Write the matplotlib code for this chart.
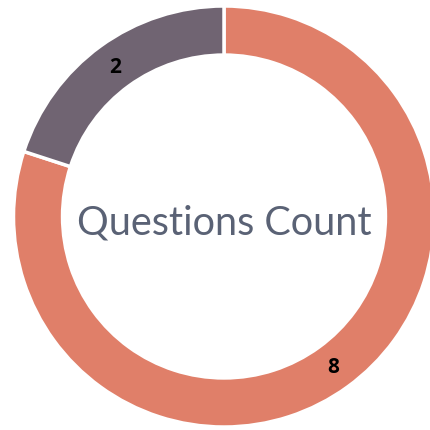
import numpy as np
import matplotlib.pyplot as plt

labels = ['8', '2']
values = [8, 2]
colors = ['#E07F69', '#706472']
center_text = 'Questions Count'

fig = plt.figure(figsize=(4.31, 4.31), dpi=100)
ax = fig.add_axes([0, 0, 1, 1])

wedges, texts = ax.pie(values, colors=colors, startangle=90, counterclock=False,
                       radius=1.0, wedgeprops=dict(width=0.233, edgecolor='white', linewidth=2.5))

# value labels in the middle of the ring
for w, lab in zip(wedges, labels):
    ang = np.deg2rad((w.theta1 + w.theta2) / 2)
    r = 0.883
    ax.text(r * np.cos(ang), r * np.sin(ang), lab, ha='center', va='center',
            fontsize=15, fontweight='bold', color='black', family='Open Sans')

ax.text(0.0, -0.083, center_text, ha='center', va='baseline', fontsize=28.5,
        color='#5A6275', family='Lato')

ax.set_aspect('auto')
ax.set_xlim(-224 / 210.5, (431 - 224) / 210.5)
ax.set_ylim(-213.5 / 210.5, 217.5 / 210.5)
ax.axis('off')

fig.savefig('out.png', dpi=100)
